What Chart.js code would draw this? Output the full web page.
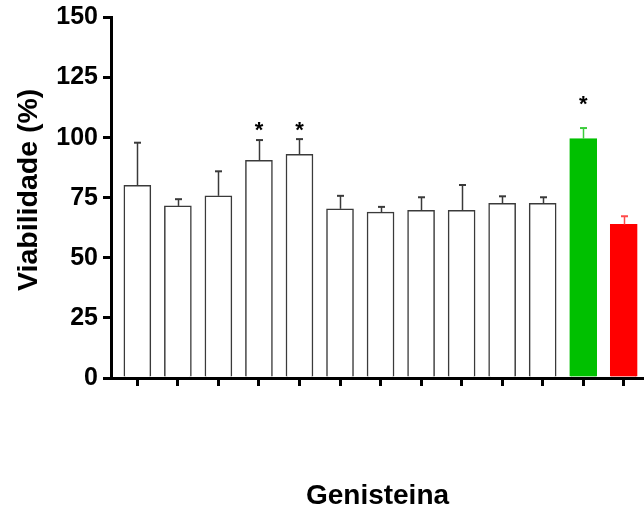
<!DOCTYPE html>
<html>
<head>
<meta charset="utf-8">
<script src="https://cdn.jsdelivr.net/npm/chart.js@4"></script>
<style>
  html, body { margin: 0; padding: 0; background: #fff; }
  #wrap { width: 644px; height: 510px; position: relative; }
</style>
</head>
<body>
<div id="wrap"><canvas id="chart"></canvas></div>
<script>
// values
const groups = ['1', '2', '3', '4', '5', '6', '7', '8', '9', '10', '11', '12', '13'];
const viability = [80.2, 71.6, 75.8, 90.6, 93.1, 70.4, 69.0, 69.8, 69.8, 72.7, 72.7, 99.6, 63.9];
const errUp = [17.7, 2.8, 10.2, 8.4, 6.3, 5.4, 2.2, 5.4, 10.5, 2.9, 2.5, 4.4, 3.4];
// asterisk positions (value at the glyph centre), null = no mark
const starAt = [null, null, null, 104.8, 104.8, null, null, null, null, null, null, 115.6, null];
const yTicks = [0, 25, 50, 75, 100, 125, 150];

const FONT = "'Liberation Sans', Arial, sans-serif";
const fillColors = viability.map((_, i) => i === 11 ? '#00c000' : i === 12 ? '#ff0000' : '#ffffff');
const edgeColors = viability.map((_, i) => i === 11 ? '#00c000' : i === 12 ? '#ff0000' : '#3a3a3a');
const errColors = viability.map((_, i) => i === 11 ? '#3ccc3c' : i === 12 ? '#ff4a4a' : '#3a3a3a');

const errorBars = {
  id: 'errorBars',
  afterDatasetsDraw(chart) {
    const { ctx, scales: { x, y } } = chart;
    ctx.save();
    viability.forEach((v, i) => {
      const px = Math.round(x.getPixelForValue(i)) + 0.5;
      const top = y.getPixelForValue(v);
      const cap = y.getPixelForValue(v + errUp[i]);
      ctx.strokeStyle = errColors[i];
      ctx.lineWidth = 1.5;
      ctx.beginPath();
      ctx.moveTo(px, top);
      ctx.lineTo(px, cap);
      ctx.stroke();
      ctx.lineWidth = 2;
      ctx.beginPath();
      ctx.moveTo(px - 3.5, cap);
      ctx.lineTo(px + 3.5, cap);
      ctx.stroke();
    });
    // significance marks
    ctx.fillStyle = '#000';
    ctx.font = 'bold 22px ' + FONT;
    ctx.textAlign = 'center';
    ctx.textBaseline = 'alphabetic';
    const m = ctx.measureText('*');
    const shift = (m.actualBoundingBoxAscent - m.actualBoundingBoxDescent) / 2;
    starAt.forEach((s, i) => {
      if (s === null) return;
      ctx.fillText('*', x.getPixelForValue(i), y.getPixelForValue(s) + shift);
    });
    ctx.restore();
  },
};

new Chart(document.getElementById('chart'), {
  type: 'bar',
  data: {
    datasets: [{
      data: viability.map((v, i) => ({ x: i, y: v })),
      backgroundColor: fillColors,
      borderColor: edgeColors,
      borderWidth: 1.5,
      barThickness: 27,
    }],
  },
  options: {
    responsive: true,
    maintainAspectRatio: false,
    animation: false,
    layout: { padding: { top: 17, right: 0, bottom: 0, left: 0 } },
    plugins: { legend: { display: false }, tooltip: { enabled: false } },
    scales: {
      x: {
        type: 'linear',
        min: -0.65,
        max: 12.5,
        offset: false,
        afterFit: s => { s.height = 132; },
        afterBuildTicks: s => { s.ticks = groups.map((_, i) => ({ value: i })); },
        grid: { offset: false, drawOnChartArea: false, color: '#000', lineWidth: 3, tickLength: 8 },
        border: { color: '#000', width: 3 },
        ticks: { display: false },
        title: {
          display: true,
          text: 'Genisteina',
          color: '#000',
          font: { family: FONT, size: 28, weight: 'bold' },
          padding: { top: 0, bottom: -3 },
        },
      },
      y: {
        min: 0,
        max: 150,
        afterFit: s => { s.width = 111; },
        afterBuildTicks: s => { s.ticks = yTicks.map(v => ({ value: v })); },
        grid: { drawOnChartArea: false, color: '#000', lineWidth: 3, tickLength: 8 },
        border: { color: '#000', width: 3 },
        ticks: {
          color: '#000',
          padding: 5,
          font: { family: FONT, size: 25, weight: 'bold', lineHeight: 1 },
        },
        title: {
          display: true,
          text: '  Viabilidade (%)',
          color: '#000',
          font: { family: FONT, size: 28.5, weight: 'bold' },
          padding: { top: 12, bottom: 0 },
        },
      },
    },
  },
  plugins: [errorBars],
});
</script>
</body>
</html>
